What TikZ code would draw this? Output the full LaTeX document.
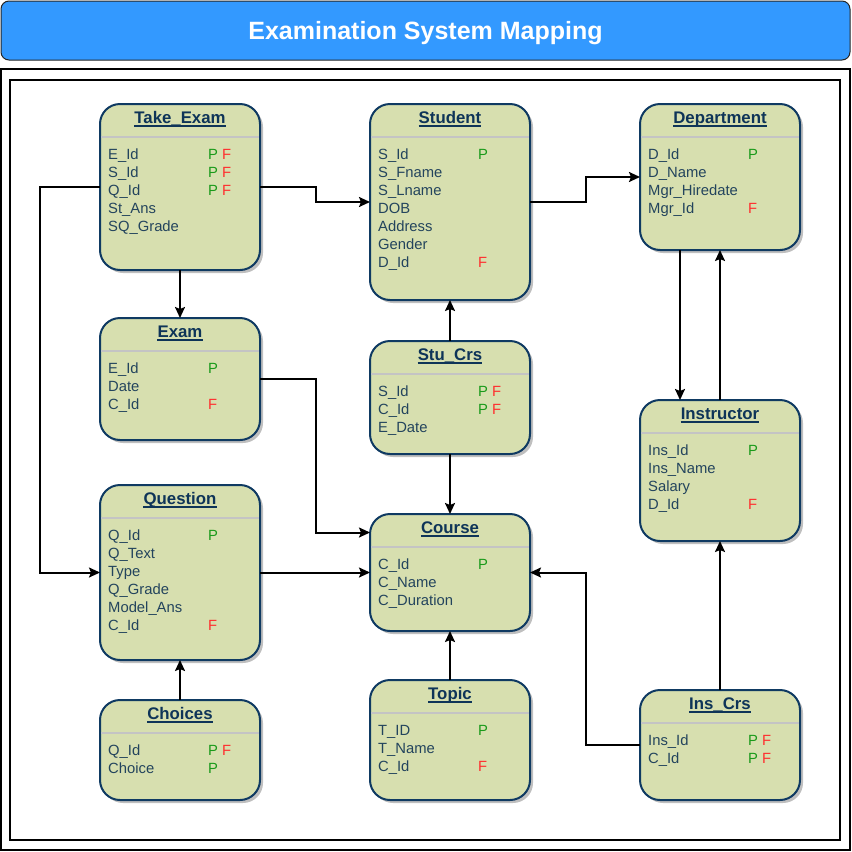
\documentclass[tikz,border=0pt]{standalone}
\usepackage{fontspec}
\setmainfont{Liberation Sans}
\usetikzlibrary{calc,arrows.meta,shadows}

\definecolor{entfill}{HTML}{D7DFAF}
\definecolor{entdraw}{HTML}{0F3A62}
\definecolor{enttext}{HTML}{23445D}
\definecolor{titletext}{HTML}{0E3458}
\definecolor{pgreen}{HTML}{1A9A1A}
\definecolor{fred}{HTML}{FF2E2E}
\definecolor{barfill}{HTML}{3399FF}
\definecolor{sepcol}{HTML}{C4C4C4}

\tikzset{
  entbox/.style={rectangle, rounded corners=20pt, draw=entdraw, fill=entfill, line width=2pt,
    minimum width=160pt, outer sep=0pt, inner sep=0pt,
    drop shadow={shadow xshift=3pt, shadow yshift=-3pt, fill=black, opacity=0.25}},
  enttitle/.style={inner sep=0pt, text=titletext, font=\fontsize{16.8}{20}\selectfont\bfseries},
  titleline/.style={draw=titletext, line width=1.2pt},
  attr/.style={inner sep=0pt, text=enttext, font=\fontsize{14.8}{18}\selectfont},
  pmark/.style={inner sep=0pt, text=pgreen, font=\fontsize{14.8}{18}\selectfont},
  fmark/.style={inner sep=0pt, text=fred, font=\fontsize{14.8}{18}\selectfont},
  sepline/.style={draw=sepcol, line width=1.3pt},
  conn/.style={draw=black, line width=2pt, -{Stealth[length=11pt,width=10pt,inset=2pt]}},
  titlebar/.style={rectangle, rounded corners=8pt, draw=black!85, line width=1pt, fill=barfill,
    text=white, font=\fontsize{25}{30}\selectfont\bfseries, outer sep=0pt, inner sep=0pt,
    text depth=0pt},
  frame/.style={draw=black, line width=1.5pt}
}

\newcommand\entity[5]{%
  \node[entbox, minimum height=#4, anchor=north west] (#1) at (#2,#3) {};
  \node[enttitle, anchor=base] (#1-t) at ($(#1.north)+(0,19)$) {#5};
  \draw[titleline] ($(#1-t.base west)+(0,3)$) -- ($(#1-t.base east)+(0,3)$);
  \draw[sepline] ($(#1.north west)+(1,33)$) -- ($(#1.north east)+(-1,33)$);
}
\newcommand\arow[3]{%
  \node[attr, anchor=base west] (#1-r#2) at ($(#1.north west)+(8,55.3+18*#2)$) {#3};}
\newcommand\pk[2]{%
  \node[pmark, anchor=base west] (#1-p#2) at ($(#1.north west)+(108,55.3+18*#2)$) {P};}
\newcommand\fk[2]{%
  \node[fmark, anchor=base west] (#1-f#2) at ($(#1.north west)+(122,55.3+18*#2)$) {F};}
\newcommand\fonly[2]{%
  \node[fmark, anchor=base west] (#1-f#2) at ($(#1.north west)+(108,55.3+18*#2)$) {F};}

\begin{document}
\begin{tikzpicture}[x=1pt,y=-1pt]
\useasboundingbox (0,0) rectangle (852,852);

% title bar and frames
\node[titlebar, minimum width=849pt, minimum height=59pt, anchor=north west] (bar) at (1,1) {Examination System Mapping};
\draw[frame] (1,69) rectangle (850,850);
\draw[frame] (10,80) rectangle (840,840);

% Take_Exam
\entity{te}{100}{104}{166}{Take\_Exam}
\arow{te}{0}{E\_Id}\pk{te}{0}\fk{te}{0}
\arow{te}{1}{S\_Id}\pk{te}{1}\fk{te}{1}
\arow{te}{2}{Q\_Id}\pk{te}{2}\fk{te}{2}
\arow{te}{3}{St\_Ans}
\arow{te}{4}{SQ\_Grade}

% Student
\entity{st}{370}{104}{196}{Student}
\arow{st}{0}{S\_Id}\pk{st}{0}
\arow{st}{1}{S\_Fname}
\arow{st}{2}{S\_Lname}
\arow{st}{3}{DOB}
\arow{st}{4}{Address}
\arow{st}{5}{Gender}
\arow{st}{6}{D\_Id}\fonly{st}{6}

% Department
\entity{dep}{640}{104}{146}{Department}
\arow{dep}{0}{D\_Id}\pk{dep}{0}
\arow{dep}{1}{D\_Name}
\arow{dep}{2}{Mgr\_Hiredate}
\arow{dep}{3}{Mgr\_Id}\fonly{dep}{3}

% Exam
\entity{ex}{100}{318}{122}{Exam}
\arow{ex}{0}{E\_Id}\pk{ex}{0}
\arow{ex}{1}{Date}
\arow{ex}{2}{C\_Id}\fonly{ex}{2}

% Stu_Crs
\entity{sc}{370}{341}{113}{Stu\_Crs}
\arow{sc}{0}{S\_Id}\pk{sc}{0}\fk{sc}{0}
\arow{sc}{1}{C\_Id}\pk{sc}{1}\fk{sc}{1}
\arow{sc}{2}{E\_Date}

% Instructor
\entity{in}{640}{400}{141}{Instructor}
\arow{in}{0}{Ins\_Id}\pk{in}{0}
\arow{in}{1}{Ins\_Name}
\arow{in}{2}{Salary}
\arow{in}{3}{D\_Id}\fonly{in}{3}

% Question
\entity{qu}{100}{485}{175}{Question}
\arow{qu}{0}{Q\_Id}\pk{qu}{0}
\arow{qu}{1}{Q\_Text}
\arow{qu}{2}{Type}
\arow{qu}{3}{Q\_Grade}
\arow{qu}{4}{Model\_Ans}
\arow{qu}{5}{C\_Id}\fonly{qu}{5}

% Course
\entity{co}{370}{514}{117}{Course}
\arow{co}{0}{C\_Id}\pk{co}{0}
\arow{co}{1}{C\_Name}
\arow{co}{2}{C\_Duration}

% Choices
\entity{ch}{100}{700}{100}{Choices}
\arow{ch}{0}{Q\_Id}\pk{ch}{0}\fk{ch}{0}
\arow{ch}{1}{Choice}\pk{ch}{1}

% Topic
\entity{tp}{370}{680}{120}{Topic}
\arow{tp}{0}{T\_ID}\pk{tp}{0}
\arow{tp}{1}{T\_Name}
\arow{tp}{2}{C\_Id}\fonly{tp}{2}

% Ins_Crs
\entity{ic}{640}{690}{110}{Ins\_Crs}
\arow{ic}{0}{Ins\_Id}\pk{ic}{0}\fk{ic}{0}
\arow{ic}{1}{C\_Id}\pk{ic}{1}\fk{ic}{1}

% connectors
\draw[conn] (te.east) -- ++(56,0) |- (st.west);
\draw[conn] (te.south) -- (ex.north);
\draw[conn] (te.west) -- ++(-60,0) |- (qu.west);
\draw[conn] (st.east) -- ++(56,0) |- (dep.west);
\draw[conn] (sc.north) -- (st.south);
\draw[conn] (sc.south) -- (co.north);
\draw[conn] (ex.east) -- ++(56,0) |- ($(co.west)+(0,-40)$);
\draw[conn] (qu.east) -- (co.west);
\draw[conn] (ic.west) -- ++(-54,0) |- (co.east);
\draw[conn] ($(dep.south)+(-40,0)$) -- ($(in.north)+(-40,0)$);
\draw[conn] (in.north) -- (dep.south);
\draw[conn] (ic.north) -- (in.south);
\draw[conn] (ch.north) -- (qu.south);
\draw[conn] (tp.north) -- (co.south);
\end{tikzpicture}
\end{document}
